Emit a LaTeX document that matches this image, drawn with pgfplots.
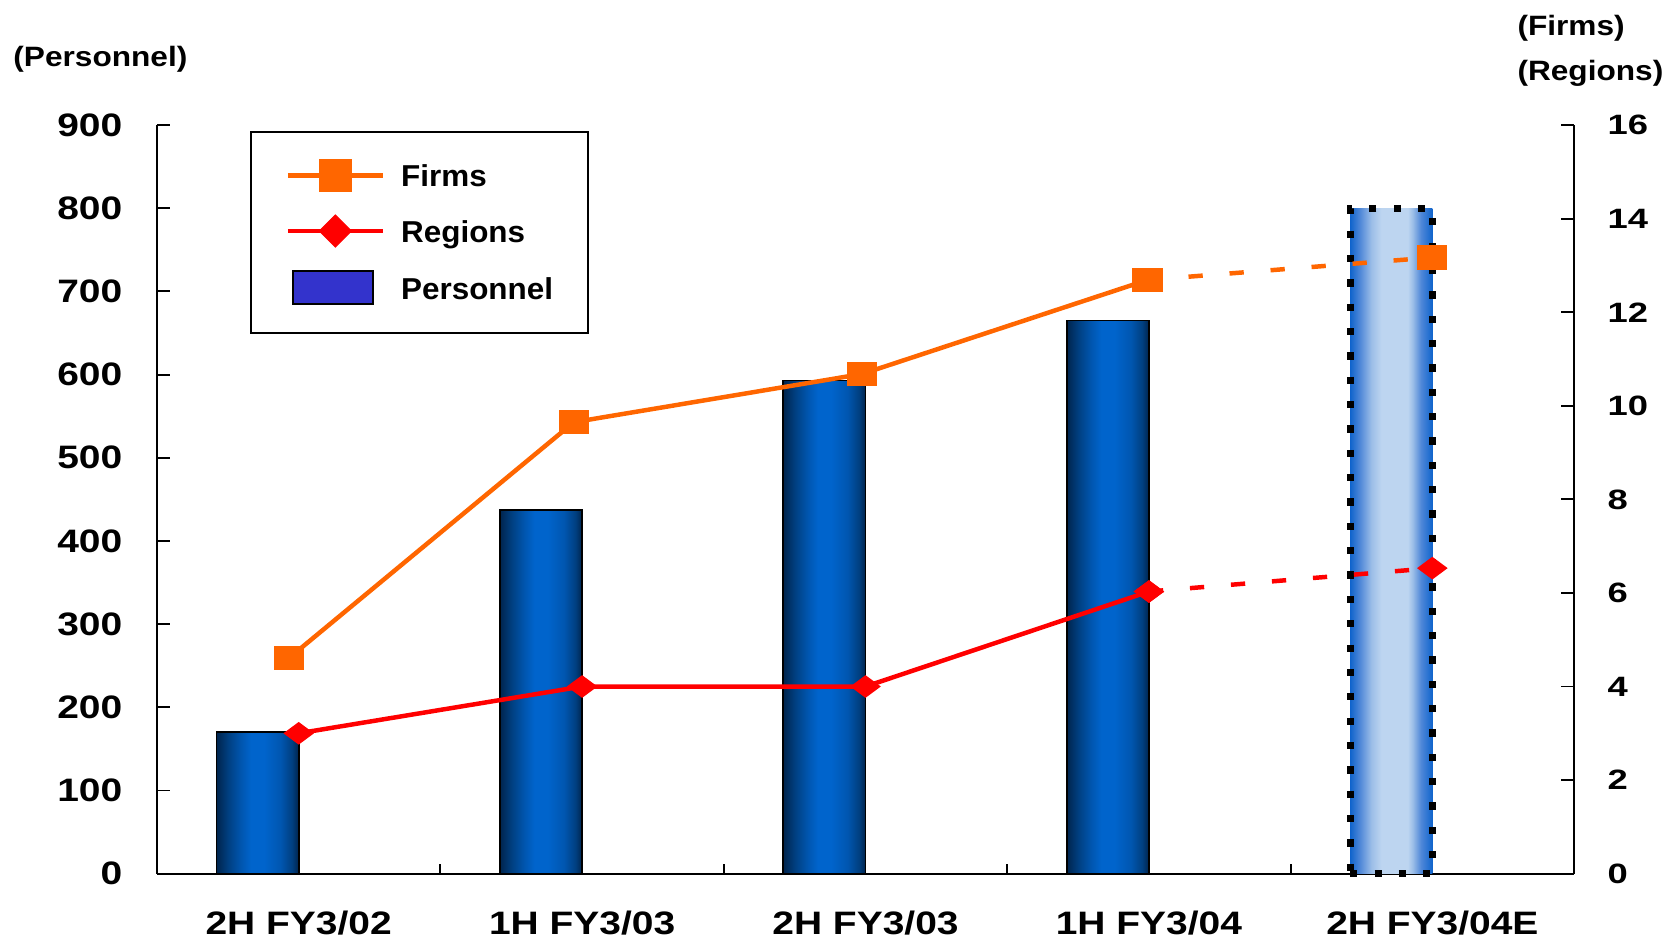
\documentclass[border=0pt]{standalone}
\usepackage{pgfplots}
\pgfplotsset{compat=1.18}
\usepackage{fontspec}
\setmainfont{Liberation Sans}
\newfontfamily\ltickfont{Liberation Sans}[FakeStretch=1.2]
\newfontfamily\rtickfont{Liberation Sans}[FakeStretch=1.3]
\newfontfamily\titlefont{Liberation Sans}[FakeStretch=1.13]
\newfontfamily\legfont{Liberation Sans}[FakeStretch=1.04]

\definecolor{forange}{HTML}{FF6600}
\definecolor{rred}{HTML}{FF0000}
\definecolor{legblue}{HTML}{3333CC}
\definecolor{bd0}{HTML}{00244D}
\definecolor{bd1}{HTML}{003F80}
\definecolor{bd2}{HTML}{0056B0}
\definecolor{bd3}{HTML}{0064CC}
\definecolor{bl0}{HTML}{1064CC}
\definecolor{bl1}{HTML}{5088D8}
\definecolor{bl2}{HTML}{9CBEE8}
\definecolor{bl3}{HTML}{BDD5F0}

\pgfdeclarehorizontalshading{darkbar}{100bp}{color(0bp)=(bd0); color(25bp)=(bd0); color(32bp)=(bd1); color(40bp)=(bd2); color(46bp)=(bd3); color(54bp)=(bd3); color(64bp)=(bd2); color(71bp)=(bd1); color(75bp)=(bd0); color(100bp)=(bd0)}
\pgfdeclarehorizontalshading{lightbar}{100bp}{color(0bp)=(bl0); color(25bp)=(bl0); color(31bp)=(bl1); color(38bp)=(bl2); color(44bp)=(bl3); color(60bp)=(bl3); color(63bp)=(bl2); color(68bp)=(bl1); color(75bp)=(bl0); color(100bp)=(bl0)}

\begin{document}
\begin{tikzpicture}
\begin{axis}[
  at={(0pt,0pt)}, anchor=south west,
  scale only axis, width=506.4pt, height=267.5pt,
  xmin=-0.5, xmax=4.5, ymin=0, ymax=900,
  axis x line*=bottom, axis y line*=left,
  axis line style={line width=0.7pt, black},
  tick align=inside,
  xtick={0,1,2,3,4},
  xticklabels={2H FY3/02, 1H FY3/03, 2H FY3/03, 1H FY3/04, 2H FY3/04E},
  minor xtick={-0.5,0.5,1.5,2.5,3.5,4.5},
  major x tick style={draw=none},
  minor x tick style={line width=0.7pt, black},
  minor tick length=3.6pt,
  ytick={0,100,...,900},
  y tick style={line width=0.7pt, black},
  major tick length=4.6pt,
  /pgf/number format/assume math mode=true,
  xticklabel style={font=\ltickfont\bfseries\fontsize{11.6}{13}\selectfont, inner sep=0pt, anchor=north, yshift=-13.3pt},
  yticklabel style={font=\ltickfont\bfseries\fontsize{11.6}{13}\selectfont, inner sep=0pt, xshift=-12.2pt},
  clip=false,
]
\addplot[ybar, bar width=0.29, bar shift=-0.145, draw=black, line width=0.6pt, shade, shading=darkbar] coordinates {(0,170)};
\addplot[ybar, bar width=0.29, bar shift=-0.145, draw=black, line width=0.6pt, shade, shading=darkbar] coordinates {(1,437)};
\addplot[ybar, bar width=0.29, bar shift=-0.145, draw=black, line width=0.6pt, shade, shading=darkbar] coordinates {(2,593)};
\addplot[ybar, bar width=0.29, bar shift=-0.145, draw=black, line width=0.6pt, shade, shading=darkbar] coordinates {(3,665)};
\addplot[ybar, bar width=0.29, bar shift=-0.145, draw=none, shade, shading=lightbar] coordinates {(4,800)};
\addplot[ybar, bar width=0.29, bar shift=-0.145, draw=black, fill=none, line width=2.4pt, dash pattern=on 2.6pt off 6.1pt] coordinates {(4,800)};
\node[anchor=base west, inner sep=0pt, font=\titlefont\bfseries\fontsize{10}{12}\selectfont] at ([xshift=-51.5pt,yshift=20.8pt]rel axis cs:0,1) {(Personnel)};
\node[anchor=base west, inner sep=0pt, font=\titlefont\bfseries\fontsize{10}{12}\selectfont] at ([xshift=-20.4pt,yshift=32.2pt]rel axis cs:1,1) {(Firms)};
\node[anchor=base west, inner sep=0pt, font=\titlefont\bfseries\fontsize{10}{12}\selectfont] at ([xshift=-20.4pt,yshift=16.0pt]rel axis cs:1,1) {(Regions)};
\end{axis}

\begin{axis}[
  at={(0pt,0pt)}, anchor=south west,
  scale only axis, width=506.4pt, height=267.5pt,
  xmin=-0.5, xmax=4.5, ymin=0, ymax=16,
  axis x line=none, axis y line*=right,
  axis line style={line width=0.7pt, black},
  tick align=inside,
  ytick={0,2,...,16},
  y tick style={line width=0.7pt, black},
  major tick length=4.6pt,
  /pgf/number format/assume math mode=true,
  yticklabel style={font=\rtickfont\bfseries\fontsize{10}{12}\selectfont, inner sep=0pt, xshift=11.8pt},
  clip=false,
  legend image code/.code={\draw[mark repeat=2,mark phase=2,#1] plot coordinates {(0pt,0pt) (17pt,0pt) (34pt,0pt)};},
  legend cell align=left,
  legend style={at={(0,1)}, anchor=north west, xshift=33.1pt, yshift=-2pt,
    draw=black, line width=0.7pt, inner xsep=12.5pt, inner ysep=10pt, row sep=8.4pt,
    font=\legfont\bfseries\fontsize{10.8}{13}\selectfont,
    nodes={inner sep=0pt, text height=9pt, text depth=1pt},
    /tikz/every odd column/.append style={column sep=5.7pt}},
]
% Firms
\addplot[forget plot, forange, line width=1.6pt, dash pattern=on 5.1pt off 9.6pt, mark=square*, mark size=4.1pt, mark options={solid, xscale=1.29, line width=0.4pt}] coordinates {(2.995,12.69) (3.999,13.17)};
\addplot[forget plot, forange, line width=1.6pt, mark=square*, mark size=4.1pt, mark options={solid, xscale=1.29, line width=0.4pt}] coordinates {(-0.034,4.61) (0.971,9.65) (1.988,10.68) (2.995,12.69)};
% Regions
\addplot[forget plot, rred, line width=1.6pt, dash pattern=on 5.1pt off 9.6pt, mark=diamond*, mark size=3.8pt, mark options={solid, xscale=1.8, line width=0.4pt}] coordinates {(3,6.03) (4,6.53)};
\addplot[forget plot, rred, line width=1.6pt, mark=diamond*, mark size=3.8pt, mark options={solid, xscale=1.8, line width=0.4pt}] coordinates {(0,3.0) (1,4.0) (2,4.0) (3,6.03)};
\addlegendimage{forange, line width=1.6pt, mark=square*, mark size=5.7pt, mark options={solid, line width=0.4pt}}
\addlegendentry{Firms}
\addlegendimage{rred, line width=1.6pt, mark=diamond*, mark size=5.7pt, mark options={solid, xscale=1.33, line width=0.4pt}}
\addlegendentry{Regions}
\addlegendimage{legend image code/.code={\draw[black, line width=0.7pt, fill=legblue] (1.8pt,-5.9pt) rectangle (30.4pt,5.9pt); \path[draw=none] (0pt,0pt) -- (34pt,0pt);}}
\addlegendentry{Personnel}
\end{axis}
\pgfresetboundingbox
\path[use as bounding box] (-56.1pt,-23.7pt) rectangle (543.9pt,312.2pt);
\end{tikzpicture}
\end{document}
